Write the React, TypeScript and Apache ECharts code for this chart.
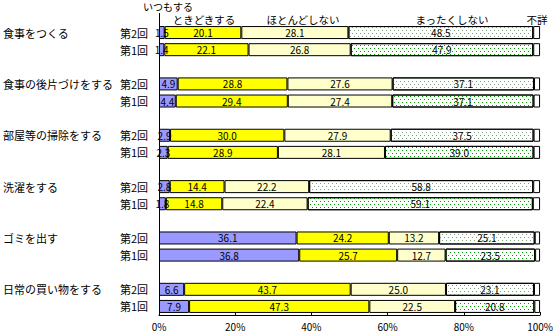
import React, { useEffect, useRef } from "react";
import * as echarts from "echarts";

const groups = ["食事をつくる", "食事の後片づけをする", "部屋等の掃除をする", "洗濯をする", "ゴミを出す", "日常の買い物をする"];
const rounds = ["第2回", "第1回"];
const seriesNames = ["いつもする", "ときどきする", "ほとんどしない", "まったくしない", "不詳"];

// order: per group, 第2回 then 第1回
const itsumo = [1.5, 1.4, 4.9, 4.4, 2.9, 2.3, 2.8, 1.8, 36.1, 36.8, 6.6, 7.9];
const tokidoki = [20.1, 22.1, 28.8, 29.4, 30.0, 28.9, 14.4, 14.8, 24.2, 25.7, 43.7, 47.3];
const hotondo = [28.1, 26.8, 27.6, 27.4, 27.9, 28.1, 22.2, 22.4, 13.2, 12.7, 25.0, 22.5];
const mattaku = [48.5, 47.9, 37.1, 37.1, 37.5, 39.0, 58.8, 59.1, 25.1, 23.5, 23.1, 20.8];
const fusho = [1.8, 1.8, 1.6, 1.7, 1.7, 1.7, 1.8, 1.9, 1.4, 1.3, 1.6, 1.5];

const xTicks = [0, 20, 40, 60, 80, 100];

const FONT = "'Noto Sans CJK JP', sans-serif";

function App() {
  const ref = useRef<HTMLDivElement>(null);
  useEffect(() => {
    if (!ref.current) return;
    const chart = echarts.init(ref.current, null, { renderer: "svg" });

    // build slots: two rows per group, blank slot between groups
    const slotRound: string[] = [];
    const slotGroup: string[] = [];
    const slotIdx: (number | null)[] = [];
    groups.forEach((g, gi) => {
      rounds.forEach((r, ri) => {
        slotRound.push(r);
        slotGroup.push(ri === 0 ? g : "");
        slotIdx.push(gi * 2 + ri);
      });
      if (gi < groups.length - 1) {
        slotRound.push("");
        slotGroup.push("");
        slotIdx.push(null);
      }
    });
    const cats = slotIdx.map((_, i) => "s" + i);

    const arrays = [itsumo, tokidoki, hotondo, mattaku, fusho];
    const colors = ["#9999ff", "#ffff00", "#ffffcc", "#ffffff", "#ffffff"];

    const series = arrays.map((arr, si) => ({
      name: seriesNames[si],
      type: "bar",
      stack: "total",
      barWidth: 13,
      yAxisIndex: 0,
      itemStyle: { color: colors[si], borderColor: "#000", borderWidth: 1 },
      label: {
        show: si < 4,
        position: "inside",
        color: "#000",
        fontSize: 10,
        fontFamily: FONT,
        formatter: (p: any) => Number(p.value).toFixed(1),
      },
      data: slotIdx.map((idx) => {
        if (idx === null) return "-";
        const v = arr[idx];
        if (si === 3) {
          const isSecond = idx % 2 === 0;
          return {
            value: v,
            itemStyle: {
              color: "#ffffff",
              decal: {
                symbol: "rect",
                symbolSize: 1,
                dashArrayX: [[1, 3], [0, 2, 1, 1]],
                dashArrayY: [1, 2],
                color: isSecond ? "#7fa07f" : "#00a000",
              },
            },
          };
        }
        return v;
      }),
    }));

    const headerFont = `10.5px ${FONT}`;

    chart.setOption({
      animation: false,
      textStyle: { fontFamily: FONT },
      grid: { left: 159, right: 11, top: 24, bottom: 18, containLabel: false },
      xAxis: {
        type: "value",
        min: xTicks[0],
        max: xTicks[xTicks.length - 1],
        interval: 20,
        splitLine: { show: false },
        axisLine: { show: true, lineStyle: { color: "#000", width: 1 } },
        axisTick: { show: true, inside: true, length: 3, lineStyle: { color: "#000" } },
        axisLabel: { color: "#000", fontSize: 10, fontFamily: FONT, margin: 6, formatter: "{value}%" },
      },
      yAxis: [
        {
          type: "category",
          data: cats,
          inverse: true,
          axisLine: { show: true, lineStyle: { color: "#000", width: 1 } },
          axisTick: { show: false },
          axisLabel: {
            interval: 0,
            color: "#000",
            fontSize: 11,
            fontFamily: FONT,
            margin: 11,
            formatter: (_v: string, i: number) => slotRound[i],
          },
        },
        {
          type: "category",
          data: cats,
          inverse: true,
          position: "left",
          axisLine: { show: false },
          axisTick: { show: false },
          axisLabel: {
            interval: 0,
            color: "#000",
            fontSize: 11,
            fontFamily: FONT,
            margin: 156,
            align: "left",
            formatter: (_v: string, i: number) => slotGroup[i],
          },
        },
      ],
      graphic: [
        { type: "line", shape: { x1: 159.5, y1: 13, x2: 159.5, y2: 24 }, style: { stroke: "#000", lineWidth: 1 } },
        { type: "text", x: 168, y: 6, style: { text: seriesNames[0], font: `10px ${FONT}`, fill: "#000", align: "center", verticalAlign: "middle" } },
        { type: "text", x: 204, y: 19, style: { text: seriesNames[1], font: headerFont, fill: "#000", align: "center", verticalAlign: "middle" } },
        { type: "text", x: 303, y: 19, style: { text: seriesNames[2], font: headerFont, fill: "#000", align: "center", verticalAlign: "middle" } },
        { type: "text", x: 452, y: 19, style: { text: seriesNames[3], font: headerFont, fill: "#000", align: "center", verticalAlign: "middle" } },
        { type: "text", x: 537, y: 19, style: { text: seriesNames[4], font: headerFont, fill: "#000", align: "center", verticalAlign: "middle" } },
      ],
      series,
    });
    return () => chart.dispose();
  }, []);
  return <div ref={ref} style={{ width: 556, height: 333, position: "absolute", left: 0, top: 0, background: "#fff" }} />;
}

export default App;
